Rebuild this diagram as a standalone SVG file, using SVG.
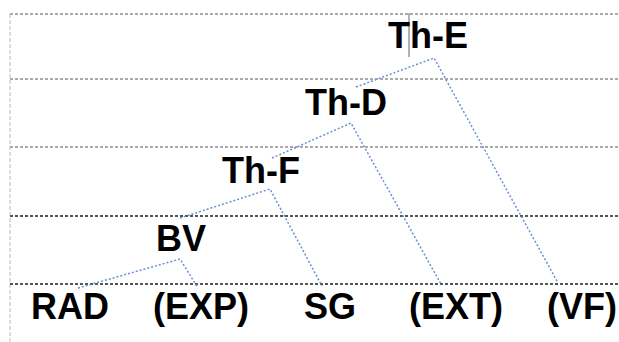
<svg xmlns="http://www.w3.org/2000/svg" width="619" height="342" viewBox="0 0 619 342">
<style>
.lbl{font-family:"Liberation Sans",Arial,sans-serif;font-size:36px;font-weight:bold;fill:#000}
.gl{stroke:#aaa;stroke-width:2;stroke-dasharray:3 2;fill:none}
.gd{stroke:#555;stroke-width:2;stroke-dasharray:3 2;fill:none}
.gv{stroke:#ddd;stroke-width:2;stroke-dasharray:4 2;fill:none}
.cn{stroke:#6a8fd6;stroke-width:1.5;stroke-dasharray:2 2;fill:none}
</style>
<rect width="619" height="342" fill="#fff"/>
<g id="grid">
<line class="gv" x1="10" y1="14" x2="10" y2="342"/>
<line class="gl" x1="10" y1="14" x2="619" y2="14"/>
<line class="gl" x1="10" y1="79" x2="619" y2="79"/>
<line class="gl" x1="10" y1="147" x2="619" y2="147"/>
<line class="gd" x1="10" y1="216" x2="619" y2="216"/>
<line class="gd" x1="10" y1="284" x2="619" y2="284"/>
<line x1="409" y1="13" x2="409" y2="57" stroke="#999" stroke-width="1.5"/>
</g>
<g id="connectors">
<polyline class="cn" points="78,288 180,259 198,288"/>
<polyline class="cn" points="180,218 270,189 322,286"/>
<polyline class="cn" points="272,158 351,123 441,284"/>
<polyline class="cn" points="356,87 434,58 557,281"/>
</g>
<g id="ThE"><text class="lbl" x="428" y="48" text-anchor="middle">Th-E</text></g>
<g id="ThD"><text class="lbl" x="346" y="115" text-anchor="middle">Th-D</text></g>
<g id="ThF"><text class="lbl" x="261" y="183" text-anchor="middle">Th-F</text></g>
<g id="BV"><text class="lbl" x="181" y="251" text-anchor="middle">BV</text></g>
<g id="RAD"><text class="lbl" x="70" y="319" text-anchor="middle">RAD</text></g>
<g id="EXP"><text class="lbl" x="201" y="319" text-anchor="middle">(EXP)</text></g>
<g id="SG"><text class="lbl" x="330" y="319" text-anchor="middle">SG</text></g>
<g id="EXT"><text class="lbl" x="456" y="319" text-anchor="middle">(EXT)</text></g>
<g id="VF"><text class="lbl" x="582" y="319" text-anchor="middle">(VF)</text></g>
</svg>
